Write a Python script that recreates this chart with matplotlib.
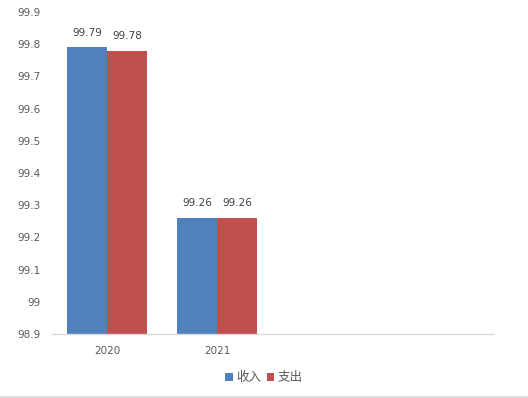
import matplotlib
matplotlib.use("Agg")
import matplotlib.pyplot as plt
from matplotlib.lines import Line2D
import numpy as np

plt.rcParams['font.family'] = ['DejaVu Sans', 'Noto Sans CJK SC']

categories = ['2020', '2021', '', '']
income = [99.79, 99.26]
expense = [99.78, 99.26]
series_names = ['收入', '支出']
colors = ['#4F81BD', '#C0504D']
yticks = [98.9, 99.0, 99.1, 99.2, 99.3, 99.4, 99.5, 99.6, 99.7, 99.8, 99.9]
ytick_labels = ['98.9', '99', '99.1', '99.2', '99.3', '99.4', '99.5', '99.6', '99.7', '99.8', '99.9']

fig = plt.figure(figsize=(5.28, 3.98), dpi=100)
ax = fig.add_axes([52/528, 64/398, (493-52)/528, (334-12)/398])

w = 40/110
x = np.arange(len(income))
bars1 = ax.bar(x - w/2, income, w, color=colors[0], label=series_names[0])
bars2 = ax.bar(x + w/2, expense, w, color=colors[1], label=series_names[1])

for bars, vals in ((bars1, income), (bars2, expense)):
    for b, v in zip(bars, vals):
        ax.annotate(f'{v:.2f}', (b.get_x() + b.get_width()/2, v), xytext=(0, 7),
                    textcoords='offset points', ha='center', va='bottom',
                    fontsize=7.5, color='#404040')

ax.set_ylim(98.9, 99.9)
ax.set_xlim(-0.5, len(categories) - 0.5)
ax.set_yticks(yticks)
ax.set_yticklabels(ytick_labels)
ax.set_xticks(np.arange(len(categories)))
ax.set_xticklabels(categories)
ax.tick_params(axis='both', length=0, labelsize=7.5, labelcolor='#595959')
ax.tick_params(axis='y', pad=8)
ax.tick_params(axis='x', pad=9)
for s in ['top', 'right', 'left']:
    ax.spines[s].set_visible(False)
ax.spines['bottom'].set_color('#D9D9D9')
ax.spines['bottom'].set_linewidth(1)

fig.legend(handles=[bars1, bars2], labels=series_names, loc='center',
           bbox_to_anchor=(0.5, 1 - 378/398), ncol=2, frameon=False,
           fontsize=9, handlelength=0.6, handleheight=0.6, handletextpad=0.3,
           columnspacing=0.4, labelcolor='#595959')

fig.add_artist(Line2D([0, 1], [1.5/398, 1.5/398], transform=fig.transFigure,
                      color='#D9D9D9', linewidth=1.2))

fig.savefig('out.png', dpi=100)
